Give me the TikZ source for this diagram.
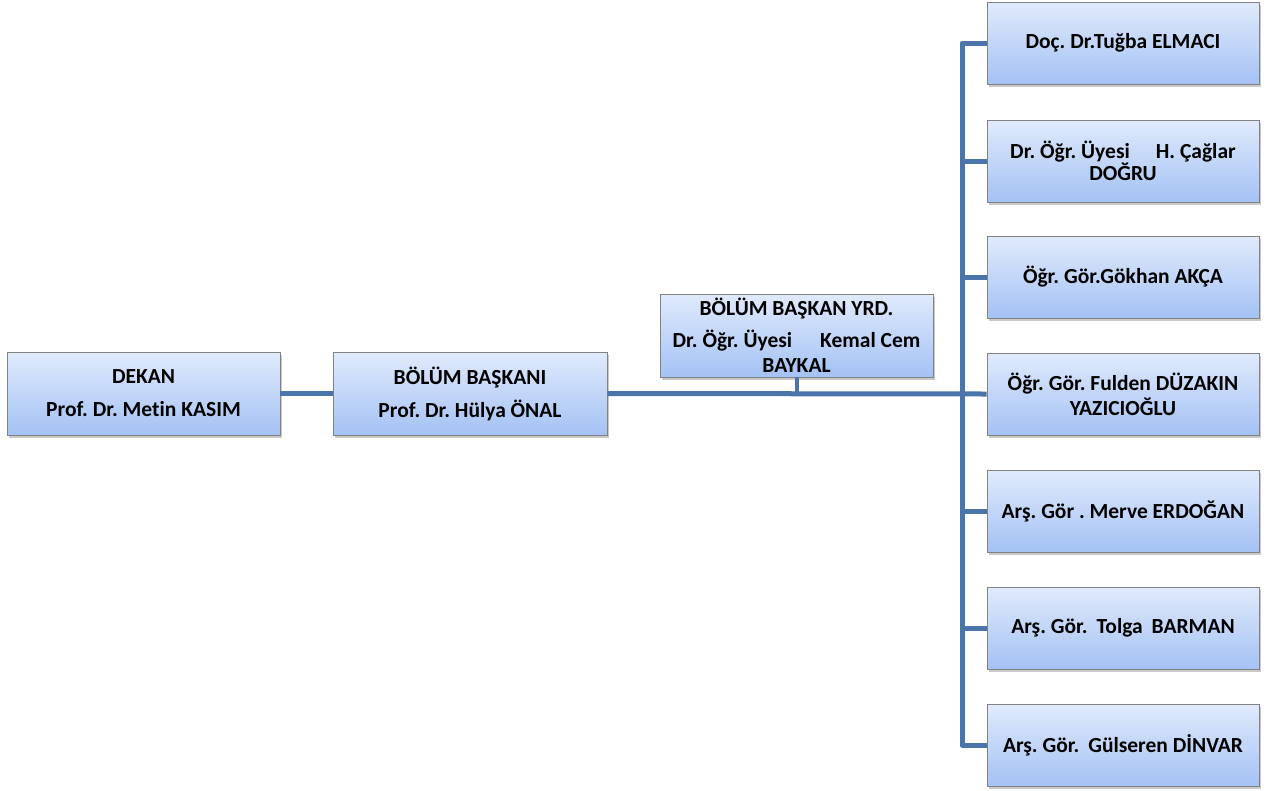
\documentclass[tikz,border=0pt]{standalone}
\usepackage{fontspec}
\setmainfont{Carlito}[Ligatures=CommonOff]
\usetikzlibrary{shadows}
\definecolor{conncol}{RGB}{74,117,170}
\definecolor{boxtop}{RGB}{224,234,252}
\definecolor{boxbot}{RGB}{164,194,244}
\definecolor{boxedge}{RGB}{130,130,130}
\frenchspacing
\tikzset{
  box/.style={draw=boxedge, line width=0.8pt, top color=boxtop, bottom color=boxbot,
    minimum width=272pt, minimum height=82pt, align=center, inner sep=2pt,
    font=\fontsize{21.5}{25}\selectfont\bfseries,
    drop shadow={shadow xshift=2pt, shadow yshift=-3pt, opacity=0.35, fill=black!60}},
  conn/.style={draw=conncol, line width=5pt, line join=round}
}
\begin{document}
\begin{tikzpicture}[x=1pt,y=-1pt]
\useasboundingbox (0,0) rectangle (1273,790);
\fill[white] (0,0) rectangle (1273,790);
\coordinate (bus) at (962,0);
% boxes
\node[box, minimum width=273pt, minimum height=83pt] (dekan) at (143.5,393.5) {DEKAN\\[8pt]Prof. Dr. Metin KASIM};
\node[box, minimum width=274pt, minimum height=83pt] (bb) at (470,393.5) {BÖLÜM BAŞKANI\\[8pt]Prof. Dr. Hülya ÖNAL};
\node[box, minimum width=273pt, minimum height=83pt] (bby) at (796.5,335.5) {BÖLÜM BAŞKAN YRD.\\[7pt]Dr. Öğr. Üyesi\hspace{28pt}Kemal Cem\\BAYKAL};
\node[box, font=\fontsize{21.5}{22}\selectfont\bfseries] (b1) at (1123,43) {Doç. Dr.Tuğba ELMACI};
\node[box, font=\fontsize{21.5}{22}\selectfont\bfseries] (b2) at (1123,161) {Dr. Öğr. Üyesi\hspace{26pt}H. Çağlar\\DOĞRU};
\node[box] (b3) at (1123,277) {Öğr. Gör.Gökhan AKÇA};
\node[box] (b4) at (1123,394) {Öğr. Gör. Fulden DÜZAKIN\\YAZICIOĞLU};
\node[box] (b5) at (1123,511) {Arş. Gör . Merve ERDOĞAN};
\node[box] (b6) at (1123,628) {Arş. Gör.\hspace{9pt}Tolga\hspace{9pt}BARMAN};
\node[box] (b7) at (1123,745) {Arş. Gör.\hspace{9pt}Gülseren DİNVAR};
% connectors
\draw[conn] (dekan.east) -- (bb.west);
\draw[conn] (bb.east) -- (b4.west);
\draw[conn, line width=4pt] (bby.south) -- (bby.south |- bb.east);
\draw[conn] (b1.west) -- (b1.west -| bus) -- (b7.west -| bus) -- (b7.west);
\draw[conn] (b2.west) -- (b2.west -| bus);
\draw[conn] (b3.west) -- (b3.west -| bus);
\draw[conn] (b5.west) -- (b5.west -| bus);
\draw[conn] (b6.west) -- (b6.west -| bus);
\end{tikzpicture}
\end{document}
